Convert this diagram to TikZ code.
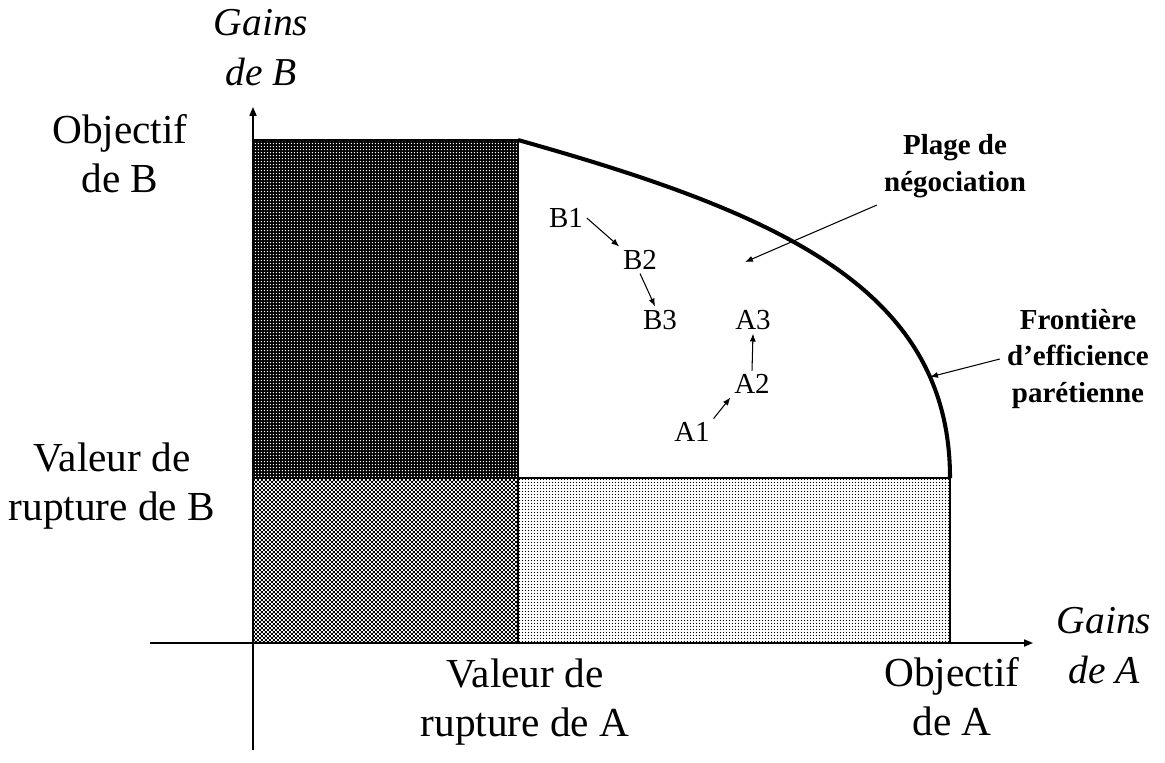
\documentclass[tikz,border=0pt]{standalone}
\usepackage{fontspec}
\setmainfont{Liberation Serif}
\usetikzlibrary{positioning,arrows.meta,patterns.meta}

% fine textures for the three zones
\tikzdeclarepattern{
  name=lightgrain,
  type=uncolored,
  bounding box={(0cm,0cm) and (0.06cm,0.06cm)},
  tile size={(0.06cm,0.06cm)},
  code={\pgfpathcircle{\pgfpoint{0.03cm}{0.03cm}}{0.014cm}\pgfusepath{fill}}
}
\tikzdeclarepattern{
  name=holegrain,
  type=uncolored,
  bounding box={(0cm,0cm) and (0.06cm,0.06cm)},
  tile size={(0.06cm,0.06cm)},
  code={\pgfpathcircle{\pgfpoint{0.03cm}{0.03cm}}{0.015cm}\pgfusepath{fill}}
}
\tikzdeclarepattern{
  name=checkgrain,
  type=uncolored,
  bounding box={(0cm,0cm) and (0.08cm,0.08cm)},
  tile size={(0.08cm,0.08cm)},
  code={\pgfpathrectangle{\pgfpointorigin}{\pgfpoint{0.04cm}{0.04cm}}%
        \pgfpathrectangle{\pgfpoint{0.04cm}{0.04cm}}{\pgfpoint{0.04cm}{0.04cm}}%
        \pgfusepath{fill}}
}

\begin{document}
\begin{tikzpicture}[
    x=0.02cm, y=-0.02cm,
    axis/.style={line width=0.85pt, -{Triangle[length=5pt,width=4pt]}},
    zone/.style={draw=black, line width=0.6pt},
    frontier/.style={line width=2.3pt},
    biglabel/.style={font=\fontsize{23.5}{28}\selectfont, align=center, inner sep=0pt},
    gainlabel/.style={font=\fontsize{22.5}{28.5}\selectfont\itshape, align=center, inner sep=0pt},
    note/.style={font=\fontsize{16.5}{21}\selectfont\bfseries, align=center, inner sep=4pt},
    offer/.style={font=\fontsize{16.5}{19}\selectfont, inner sep=2pt},
    move/.style={-{Latex[length=4.5pt,width=3.5pt]}, line width=0.6pt}
]
\useasboundingbox (0,0) rectangle (1165,762);

% zones
\fill[black] (253,140) rectangle (518,478);
\fill[pattern=holegrain, pattern color=white] (253,140) rectangle (518,478);
\draw[zone] (253,140) rectangle (518,478);
\draw[zone, pattern=checkgrain] (253,478) rectangle (518,643);
\draw[zone, pattern=lightgrain] (518,478) rectangle (950,643);
\draw[zone] (518,478) -- (950,478);

% Pareto frontier
\draw[frontier] (518,140) .. controls (778,213) and (950,288) .. (950,478)
    coordinate[pos=0.8] (fr);

% axes
\coordinate (ybot) at (253,750);
\coordinate (ytop) at (253,107);
\coordinate (xleft) at (150,643);
\coordinate (xright) at (1033,643);
\draw[axis] (ybot) -- (ytop);
\draw[axis] (xleft) -- (xright);

% axis labels
\node[gainlabel] (gainB) at (261,48) {Gains\\de B};
\node[gainlabel] (gainA) at (1104,646) {Gains\\de A};
\node[biglabel] (objB) at (120,154) {Objectif\\de B};
\node[biglabel] (rupB) at (112,486) {Valeur de\\rupture de B};
\node[biglabel] (rupA) at (525,702) {Valeur de\\rupture de A};
\node[biglabel] (objA) at (952,697) {Objectif\\de A};

% notes
\node[note] (plage) at (955,166) {Plage de\\négociation};
\node[note] (front) at (1078,359) {Frontière\\d’efficience\\parétienne};
\coordinate (range) at (745,262);
\draw[move] (plage.south west) -- (range);
\draw[move] (front.west) -- (fr);

% offers
\node[offer] (B1) at (566,218) {B1};
\node[offer] (B2) at (640,260) {B2};
\node[offer] (B3) at (660,320) {B3};
\node[offer] (A1) at (692,432) {A1};
\node[offer] (A2) at (752,384) {A2};
\node[offer] (A3) at (753,320) {A3};
\draw[move] (B1.east) -- (B2.north west);
\draw[move] (B2.south) -- (B3.110);
\draw[move] (A1.north east) -- (A2.south west);
\draw[move] (A2.north) -- (A3.south);
\end{tikzpicture}
\end{document}
